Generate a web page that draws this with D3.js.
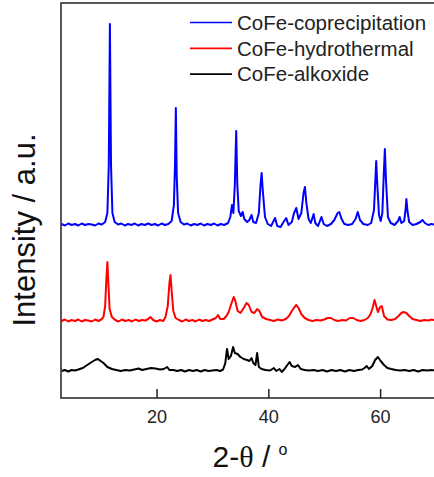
<!DOCTYPE html>
<html>
<head>
<meta charset="utf-8">
<script src="https://cdn.jsdelivr.net/npm/d3@7"></script>
<style>
  body { margin: 0; background: #fff; }
  svg { display: block; font-family: "Liberation Sans", Arial, sans-serif; }
</style>
</head>
<body>
<div class="displayArea"></div>
<script>
const width = 434, height = 477;

// series names, colours and vertical offsets (stacked patterns)
var names = ["CoFe-coprecipitation", "CoFe-hydrothermal", "CoFe-alkoxide"];
var colors = ["#0000ff", "#ff0000", "#000000"];
var offsets = [173, 77, 27];
var xTicks = [20, 40, 60];

// CoFe-coprecipitation
var coprecX = [3, 3.6, 4.2, 4.8, 5.4, 6, 6.6, 7.2, 7.8, 8.4, 9, 9.6, 10.2, 10.8, 11.2, 11.45, 11.65, 11.85, 12.1, 12.5, 13.1, 13.7, 14.3, 14.9, 15.5, 16.1, 16.7, 17.3, 17.9, 18.5, 19.1, 19.7, 20.3, 20.9, 21.5, 22.1, 22.7, 23.1, 23.3, 23.45, 23.6, 23.85, 24.3, 24.9, 25.5, 26.1, 26.7, 27.3, 27.9, 28.5, 29.1, 29.7, 30.3, 30.9, 31.5, 32.1, 32.8, 33.2, 33.5, 33.75, 34.0, 34.25, 34.45, 34.7, 35.1, 35.4, 35.7, 36.2, 36.6, 37.0, 37.3, 37.8, 38.3, 38.6, 38.8, 39.0, 39.4, 39.9, 40.5, 41.2, 41.6, 42.2, 42.6, 43.2, 43.6, 44.2, 44.6, 45.0, 45.4, 45.9, 46.3, 46.55, 46.8, 47.2, 47.6, 48.1, 48.4, 48.9, 49.5, 49.9, 50.5, 51.2, 51.8, 52.4, 52.7, 53.1, 53.6, 54.3, 55.0, 55.6, 56.0, 56.4, 57.0, 57.8, 58.4, 58.9, 59.15, 59.3, 59.5, 59.8, 60.1, 60.4, 60.65, 60.85, 61.05, 61.4, 61.9, 62.6, 63.2, 63.5, 63.8, 64.3, 64.55, 64.7, 64.9, 65.2, 65.8, 66.5, 67.2, 67.6, 68.0, 68.6, 69.2, 70];
var coprecY = [1, -0.5, 1.5, 0, 1, -0.5, 1.5, 0, 1, 0.5, -0.5, 1.5, 0.5, 3, 12, 60, 201, 60, 12, 3, 0.5, 1.5, -0.5, 1, 0, 1.5, -0.5, 1, 0, 1.5, 0, 1, -0.5, 1.5, 0, 1, 4, 20, 60, 117, 50, 12, 3, 0.5, 1.5, -0.5, 1, 0, 1.5, -0.5, 1, 0, 1.5, -0.5, 1, 0, 2, 8, 20, 12, 40, 94, 40, 14, 9, 13, 6, 3, 5, 10, 3, 2, 12, 40, 52, 35, 8, 1, -1, 7, -1, -2, 2, 7, 0, 3, 12, 17, 6, 12, 32, 38, 22, 6, 2, 11, 2, -1, 8, 1, -1, 1, 5, 12, 13, 6, 1, 0, 1, 6, 13, 5, 1, 0, 2, 15, 45, 64, 40, 10, 4, 12, 50, 76, 45, 8, 2, 0, 4, 8, 2, 4, 15, 26, 14, 3, 0, 1, 3, 5, 2, 0, 1, 0];

// CoFe-hydrothermal
var hydroX = [3, 3.6, 4.2, 4.8, 5.4, 6, 6.6, 7.2, 7.8, 8.4, 9, 9.6, 10.1, 10.5, 10.8, 11.0, 11.2, 11.4, 11.6, 12.0, 12.6, 13.2, 13.8, 14.4, 15.0, 15.6, 16.2, 16.8, 17.4, 18.0, 18.5, 18.9, 19.4, 20.0, 20.6, 21.2, 21.6, 22.0, 22.3, 22.5, 22.7, 23.0, 23.4, 24.0, 24.6, 25.2, 25.8, 26.4, 27.0, 27.6, 28.2, 28.8, 29.4, 30.0, 30.6, 31.0, 31.4, 32.0, 32.5, 32.9, 33.3, 33.8, 34.1, 34.5, 35.0, 35.6, 36.1, 36.5, 37.0, 37.5, 38.0, 38.4, 38.9, 39.6, 40.3, 41.0, 41.7, 42.4, 43.1, 43.7, 44.2, 44.7, 45.0, 45.4, 45.9, 46.5, 47.2, 47.9, 48.6, 49.3, 50.0, 50.6, 51.2, 51.8, 52.5, 53.2, 53.9, 54.6, 55.2, 55.8, 56.5, 57.2, 57.8, 58.3, 58.7, 59.0, 59.3, 59.6, 60.0, 60.3, 60.7, 61.3, 62.0, 62.7, 63.3, 63.8, 64.2, 64.7, 65.2, 65.8, 66.5, 67.2, 67.9, 68.6, 69.3, 70];
var hydroY = [0, 1.5, -0.5, 1, 0, 1.5, -0.5, 1, 0.5, -0.5, 1.5, 0, 1.5, 4, 15, 40, 59, 35, 12, 4, 1, -0.5, 1.5, 0, 1, -0.5, 1.5, 0, 1, 0.5, 2, 4, 1, -0.5, 1, 0, 4, 15, 38, 46, 30, 10, 3, 1, -0.5, 1.5, 0, 1, -0.5, 1.5, 0, 1, 0, 1.5, 3, 6, 2, 2, 5, 9, 16, 24, 20, 10, 8, 13, 18, 16, 9, 8, 12, 10, 4, 2, 1, 0, 1.5, 0.5, 2, 5, 10, 14, 16, 13, 7, 3, 1, 0, 1, 0.5, 1.5, 3, 3, 1, 0, 1, 0.5, 3, 3, 1, 0, 1, 3, 7, 14, 21, 15, 9, 14, 15, 5, 1.5, 1, 2, 5, 8, 9, 8, 5, 2, 1, 0, 1, 0.5, 1.5, 0];

// CoFe-alkoxide
var alkoxX = [3, 3.6, 4.2, 4.8, 5.4, 6, 6.8, 7.6, 8.4, 9.0, 9.5, 10.0, 10.5, 11.2, 12.0, 12.8, 13.6, 14.4, 15.2, 16.0, 16.8, 17.4, 18.2, 19.0, 19.8, 20.6, 21.3, 21.9, 22.3, 23.0, 23.7, 24.4, 25.1, 25.8, 26.5, 27.2, 27.9, 28.6, 29.3, 30.0, 30.7, 31.4, 31.9, 32.3, 32.6, 32.9, 33.3, 33.7, 34.0, 34.5, 35.0, 35.6, 36.2, 36.6, 37.0, 37.3, 37.7, 38.0, 38.3, 38.8, 39.5, 40.3, 41.0, 41.4, 42.0, 42.4, 42.9, 43.4, 43.8, 44.2, 44.8, 45.3, 45.8, 46.5, 47.3, 48.1, 48.9, 49.7, 50.5, 51.3, 52.1, 52.9, 53.7, 54.5, 55.3, 56.1, 56.8, 57.2, 57.6, 58.0, 58.6, 59.1, 59.6, 60.1, 60.7, 61.3, 62.0, 62.8, 63.6, 64.4, 65.2, 66.0, 66.8, 67.6, 68.4, 69.2, 70];
var alkoxY = [0, 1, -0.5, 1, 0.5, 1.5, 3, 6, 9, 11, 12, 10, 8, 4, 2, 1, 0, 1, 0.5, 1.5, 2.5, 1, 2, 3, 2.5, 1.5, 2, 4, 1, 1, 0, 1, -0.5, 1, 0, 1, -0.5, 1, 0, 0.5, 1, 0, 1.5, 8, 22, 12, 15, 24, 18, 17, 14, 12, 11, 10, 13, 8, 6, 18, 4, 2, 1, 0.5, 3, 0, 2, -1, 2, 6, 9, 5, 4, 6, 2, 1, 0.5, 1, 0, 1, -0.5, 1, 0, 1, -0.5, 1, 0, 1, 1.5, 3, 5, 2, 5, 11, 14, 10, 6, 3, 2, 1, 0.5, 1, 0, 1, -0.5, 1, 0.5, 1, 0.5];

var xs = [coprecX, hydroX, alkoxX];
var ys = [coprecY, hydroY, alkoxY];

var plotLeft = 61, plotRight = 436, plotTop = 3, plotBottom = 398;

var xScale = d3.scaleLinear().domain([2.9, 70]).range([plotLeft, plotRight]);
var yScale = d3.scaleLinear().domain([0, 395]).range([plotBottom, plotTop]);

var svg = d3.select(".displayArea")
    .append("svg")
    .attr("width", width)
    .attr("height", height);

svg.append("clipPath").attr("id", "plotClip")
    .append("rect")
    .attr("x", plotLeft).attr("y", plotTop)
    .attr("width", plotRight - plotLeft).attr("height", plotBottom - plotTop);

var line = d3.line()
    .x(function (d) { return xScale(d[0]); })
    .y(function (d) { return yScale(d[1]); });

var plot = svg.append("g").attr("clip-path", "url(#plotClip)");

for (var s = 0; s < names.length; s++) {
    var pts = xs[s].map(function (x, i) { return [x, ys[s][i] + offsets[s]]; });
    plot.append("path")
        .datum(pts)
        .attr("fill", "none")
        .attr("stroke", colors[s])
        .attr("stroke-width", 2)
        .attr("stroke-linejoin", "round")
        .attr("d", line);
}

// frame
svg.append("rect")
    .attr("x", plotLeft).attr("y", plotTop)
    .attr("width", plotRight - plotLeft).attr("height", plotBottom - plotTop)
    .attr("fill", "none")
    .attr("stroke", "#222")
    .attr("stroke-width", 1.5);

var xAxis = d3.axisBottom(xScale)
    .tickValues(xTicks)
    .tickSizeInner(-9)
    .tickSizeOuter(0)
    .tickPadding(12);

var gx = svg.append("g")
    .attr("transform", `translate(0,${plotBottom})`)
    .call(xAxis);
gx.attr("font-size", 18).attr("font-family", "Liberation Sans, Arial, sans-serif");
gx.select(".domain").remove();
gx.selectAll(".tick line").attr("stroke", "#222").attr("stroke-width", 1.5);
gx.selectAll(".tick text").attr("fill", "#222");

// legend
var legend = svg.append("g");
names.forEach(function (n, i) {
    var ly = 22.5 + i * 25.8;
    legend.append("line")
        .attr("x1", 190).attr("x2", 232)
        .attr("y1", ly).attr("y2", ly)
        .attr("stroke", colors[i]).attr("stroke-width", 1.7);
    legend.append("text")
        .attr("x", 237).attr("y", ly)
        .attr("dy", "0.36em")
        .attr("font-size", 20.5)
        .attr("fill", "#222")
        .text(n);
});

// axis titles
var xl = svg.append("text")
    .attr("x", 250).attr("y", 467)
    .attr("text-anchor", "middle")
    .attr("font-size", 30)
    .attr("fill", "#111");
xl.append("tspan").text("2-");
xl.append("tspan").attr("font-family", "Liberation Serif, serif").text("\u03B8");
xl.append("tspan").text(" / ");
xl.append("tspan").attr("font-size", 16).attr("dy", -12).text("o");

svg.append("text")
    .attr("transform", "translate(35,230) rotate(-90)")
    .attr("text-anchor", "middle")
    .attr("font-size", 31)
    .attr("fill", "#111")
    .text("Intensity / a.u.");
</script>
</body>
</html>
